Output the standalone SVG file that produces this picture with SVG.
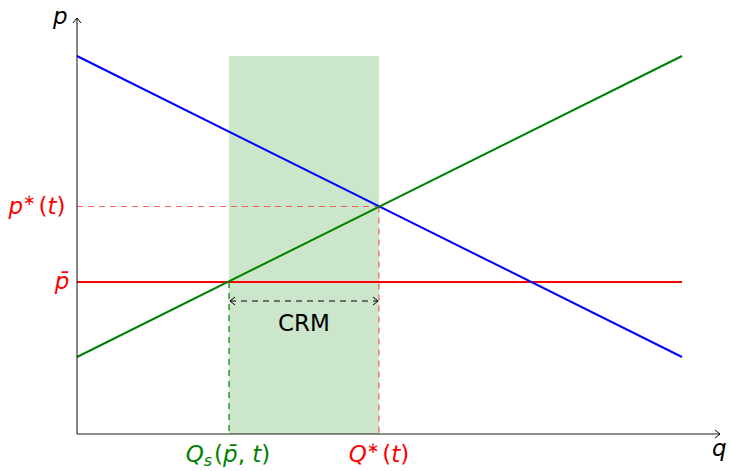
<svg xmlns="http://www.w3.org/2000/svg" width="730" height="471" viewBox="0 0 730 471">
<style>
text{font-family:"DejaVu Sans","Liberation Sans",sans-serif;font-size:23px}
.m{font-style:italic}
.red{fill:#ff0000}
.grn{fill:#008000}
</style>
<defs>
<marker id="ah" markerWidth="10" markerHeight="10" refX="7" refY="5" orient="auto-start-reverse" markerUnits="userSpaceOnUse">
<path d="M2,1 L7,5 L2,9" fill="none" stroke="#000" stroke-width="1"/>
</marker>
</defs>
<rect width="730" height="471" fill="#fff"/>
<g id="crm-region"><rect x="229" y="56" width="150" height="378" fill="#008000" fill-opacity="0.2"/></g>
<g id="connectors" fill="none">
<line x1="77" y1="206.5" x2="379" y2="206.5" stroke="#ff0000" stroke-opacity="0.6" stroke-width="1.2" stroke-dasharray="6,5"/>
<line x1="379" y1="206.5" x2="379" y2="434" stroke="#ff0000" stroke-opacity="0.6" stroke-width="1.2" stroke-dasharray="6,5"/>
<line x1="229" y1="282" x2="229" y2="434" stroke="#008000" stroke-width="1.2" stroke-dasharray="6,5"/>
<line x1="230" y1="301" x2="378" y2="301" stroke="#000" stroke-width="1.2" stroke-dasharray="6,5" marker-start="url(#ah)" marker-end="url(#ah)"/>
<line x1="77" y1="282" x2="682" y2="282" stroke="#ff0000" stroke-width="2"/>
<line x1="77" y1="56" x2="682" y2="357" stroke="#0000ff" stroke-width="2"/>
<line x1="77" y1="357" x2="682" y2="56" stroke="#008000" stroke-width="2"/>
<line x1="77" y1="434" x2="77" y2="18" stroke="#000" stroke-opacity="0.8" stroke-width="1.2" marker-end="url(#ah)"/>
<line x1="77" y1="434" x2="720" y2="434" stroke="#000" stroke-opacity="0.6" stroke-width="1.5" marker-end="url(#ah)"/>
</g>
<g id="labels">
<text class="m" x="53" y="24">p</text>
<text class="m" x="712" y="456">q</text>
<text class="red" x="37" y="214" text-anchor="middle"><tspan class="m">p</tspan><tspan font-size="15" dy="-9">∗</tspan><tspan dx="3" dy="9">(</tspan><tspan class="m">t</tspan>)</text>
<text class="red m" x="62" y="289" text-anchor="middle">p̄</text>
<text x="304" y="331" text-anchor="middle">CRM</text>
<text class="grn" x="228" y="462" text-anchor="middle"><tspan class="m">Q</tspan><tspan class="m" font-size="16" dy="4">s</tspan><tspan dx="2" dy="-4">(</tspan><tspan class="m">p̄</tspan>, <tspan class="m">t</tspan>)</text>
<text class="red" x="379" y="462" text-anchor="middle"><tspan class="m">Q</tspan><tspan font-size="15" dy="-9">∗</tspan><tspan dx="3" dy="9">(</tspan><tspan class="m">t</tspan>)</text>
</g>
</svg>
